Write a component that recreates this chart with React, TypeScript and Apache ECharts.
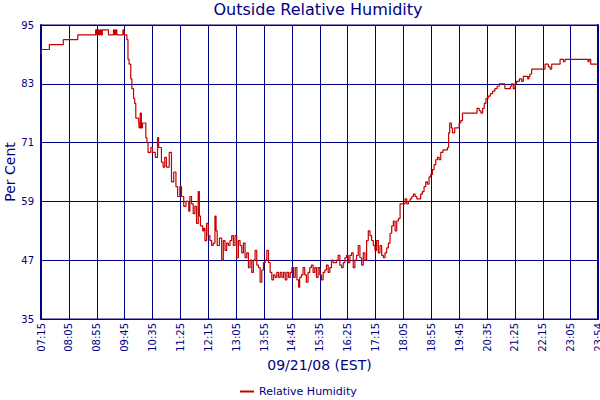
import { useEffect, useRef } from "react";
import * as echarts from "echarts";

// time axis is minutes after the first reading (07:15)
const START_MINUTES = 7 * 60 + 15;
const END_OFFSET = 999; // 23:54
const TICK_STEP = 50;

// percent axis 35..95 every 12; plotted relative to 35 so ticks start on a multiple
const Y_BASE = 35;
const Y_TOP = 95;
const Y_STEP = 12;

const NAVY = "#000080";
const RED = "#c40000";

// [minutes after 07:15, relative humidity %]
const morning: [number, number][] = [
  [0, 89], [1, 90], [15, 91], [40, 92], [66, 93], [98, 94], [100, 93], [102, 94],
  [104, 93], [106, 94], [108, 93], [110, 94], [121, 93], [130, 94], [132, 93],
  [134, 94], [136, 93], [147, 94], [149, 93],
];

const morningDrop: [number, number][] = [
  [151, 93], [154, 92], [156, 88], [158, 87], [161, 84], [163, 82], [166, 80],
  [168, 79], [170, 76], [175, 76], [176, 74], [178, 77], [180, 74], [182, 75],
  [185, 75], [188, 72], [190, 71], [192, 69], [197, 70], [200, 69], [205, 68],
  [209, 72], [211, 70], [216, 67], [219, 66], [222, 68], [225, 66], [230, 69],
  [234, 63], [238, 65], [242, 62], [245, 60], [249, 62], [252, 60], [256, 58],
  [260, 59], [263, 59], [265, 57],
];

const midday: [number, number][] = [
  [267, 60], [270, 58.5], [273, 56.5], [276, 58], [279, 54.5], [282, 61], [284, 56],
  [286, 54], [290, 53], [292, 53.5], [294, 51], [297, 54.5], [300, 52], [303, 51],
  [306, 50], [309, 50.5], [312, 56], [314, 53], [316, 50], [320, 51.5], [324, 47],
  [327, 51], [330, 49], [333, 50.5], [336, 50], [339, 51], [342, 52], [345, 50],
  [348, 52], [351, 47.5], [354, 51], [357, 50], [360, 48.5], [363, 50.5], [366, 47.5],
  [369, 48.5], [372, 45.5], [375, 47], [378, 44.5], [381, 47], [384, 49], [387, 46],
  [390, 45.5], [393, 42.5], [396, 45], [399, 46.5], [402, 47], [405, 49], [408, 46.5],
  [411, 44.5], [414, 43], [417, 44], [420, 43.5], [423, 44.5], [426, 43.5], [429, 44.5],
  [432, 43.5], [435, 44.5], [438, 43], [441, 44.5], [444, 43.5], [447, 44.5], [450, 45.5],
  [453, 43.5], [456, 45.5], [459, 43], [462, 41.5],
];

const afternoon: [number, number][] = [
  [464, 43.5], [467, 44], [470, 45.5], [473, 44], [476, 42.5], [479, 44.5], [482, 45.5],
  [485, 46], [488, 44.5], [491, 45.5], [494, 43.5], [497, 45.5], [500, 44], [503, 43],
  [506, 44.5], [509, 45], [512, 46], [515, 44.5], [518, 45.5], [521, 47], [524, 46.5],
  [527, 46.5], [530, 47], [533, 48], [536, 46], [539, 45.5], [542, 46.5], [545, 47.5],
  [548, 48], [551, 46.5], [554, 48], [557, 48.5], [560, 45.5], [563, 47], [566, 48],
  [569, 50], [572, 47.5], [575, 46], [578, 48.5], [581, 47], [584, 51], [587, 53],
  [590, 52], [593, 51], [596, 50], [599, 49], [602, 51], [605, 48.5], [608, 50],
  [611, 48], [614, 47.5], [617, 48.5], [620, 49.5], [623, 50.5], [626, 52.5], [629, 54],
  [632, 55], [635, 53], [638, 55], [641, 55.5], [644, 58.5], [647, 58.5], [650, 58.5],
  [653, 59.5], [656, 58.5], [659, 59], [662, 59.5], [665, 60], [668, 60.5], [671, 60],
];

const evening: [number, number][] = [
  [674, 59.5], [677, 59.5], [681, 60.5], [684, 61], [687, 62], [690, 63], [693, 62.5],
  [696, 64], [699, 64.5], [702, 65.5], [705, 66.5], [708, 67.5], [711, 68], [714, 67.5],
  [717, 69], [721, 69.5], [726, 69.5], [729, 70], [731, 73], [733, 75], [736, 74],
  [738, 73], [742, 74], [747, 74], [750, 75], [753, 75.5], [756, 77], [766, 77],
  [772, 77], [778, 77], [782, 78], [786, 77.5], [789, 77], [792, 78], [795, 79],
  [798, 80], [802, 80.5], [806, 81], [810, 81.5], [814, 82], [818, 82.5], [822, 83],
];

const night: [number, number][] = [
  [828, 83], [832, 82], [838, 82], [842, 82.5], [844, 83], [847, 82], [850, 83],
  [853, 83.5], [858, 84], [862, 83.5], [865, 84.5], [871, 84.5], [873, 84], [875, 84.5],
  [877, 85], [880, 86], [883, 86], [901, 86], [904, 87], [907, 87], [910, 86.5],
  [913, 86], [916, 87], [928, 87], [931, 88], [934, 88], [937, 87.5], [940, 88],
  [979, 88], [981, 87.5], [983, 88], [986, 87], [999, 87],
];

const toClock = (offset: number) => {
  const total = START_MINUTES + offset;
  const h = Math.floor(total / 60);
  const m = total % 60;
  return `${String(h).padStart(2, "0")}:${String(m).padStart(2, "0")}`;
};

export default function App() {
  const chartRef = useRef<HTMLDivElement>(null);

  useEffect(() => {
    document.body.style.margin = "0";
    if (!chartRef.current) return;
    const chart = echarts.init(chartRef.current, null, { renderer: "svg" });

    const readings = [...morning, ...morningDrop, ...midday, ...afternoon, ...evening, ...night];

    chart.setOption({
      animation: false,
      textStyle: { fontFamily: "DejaVu Sans" },
      title: {
        text: "Outside Relative Humidity",
        left: 318,
        top: 1,
        textAlign: "center",
        padding: 0,
        textStyle: { color: NAVY, fontSize: 16, fontWeight: "normal" },
      },
      legend: {
        data: ["Relative Humidity"],
        left: 240,
        top: 386,
        padding: 0,
        icon: "rect",
        itemWidth: 14,
        itemHeight: 2,
        textStyle: { color: NAVY, fontSize: 11 },
      },
      grid: {
        left: 41,
        right: 2,
        top: 25,
        bottom: 81,
        outerBoundsMode: "none",
        containLabel: false,
        show: true,
        borderColor: NAVY,
        borderWidth: 1,
      },
      xAxis: {
        type: "value",
        min: 0,
        max: END_OFFSET,
        interval: TICK_STEP,
        name: "09/21/08 (EST)",
        nameLocation: "middle",
        nameGap: 39,
        nameMoveOverlap: false,
        nameTextStyle: { color: NAVY, fontSize: 14 },
        axisLine: { lineStyle: { color: NAVY, width: 1 } },
        axisTick: { show: false },
        axisLabel: {
          rotate: 90,
          margin: 4,
          color: NAVY,
          fontSize: 10,
          showMaxLabel: true,
          formatter: (v: number) => toClock(v),
        },
        splitLine: { lineStyle: { color: NAVY, width: 1 } },
      },
      yAxis: [
        {
          type: "value",
          min: 0,
          max: Y_TOP - Y_BASE,
          interval: Y_STEP,
          name: "Per Cent",
          nameLocation: "middle",
          nameGap: 24,
          nameMoveOverlap: false,
          nameTextStyle: { color: NAVY, fontSize: 14 },
          axisLine: { show: true, lineStyle: { color: NAVY, width: 2 } },
          axisTick: { show: false },
          axisLabel: {
            color: NAVY,
            fontSize: 10,
            margin: 7,
            formatter: (v: number) => String(v + Y_BASE),
          },
          splitLine: { lineStyle: { color: NAVY, width: 1 } },
        },
        {
          type: "value",
          position: "right",
          min: 0,
          max: Y_TOP - Y_BASE,
          interval: Y_STEP,
          axisLine: { show: true, lineStyle: { color: NAVY, width: 2 } },
          axisTick: { show: false },
          axisLabel: { show: false },
          splitLine: { show: false },
        },
      ],
      series: [
        {
          name: "Relative Humidity",
          type: "line",
          step: "end",
          showSymbol: false,
          symbol: "none",
          data: readings.map(([t, v]) => [t, v - Y_BASE]),
          lineStyle: { color: RED, width: 1.2 },
          itemStyle: { color: RED },
        },
      ],
    });

    return () => chart.dispose();
  }, []);

  return <div ref={chartRef} style={{ width: 600, height: 400 }} />;
}
